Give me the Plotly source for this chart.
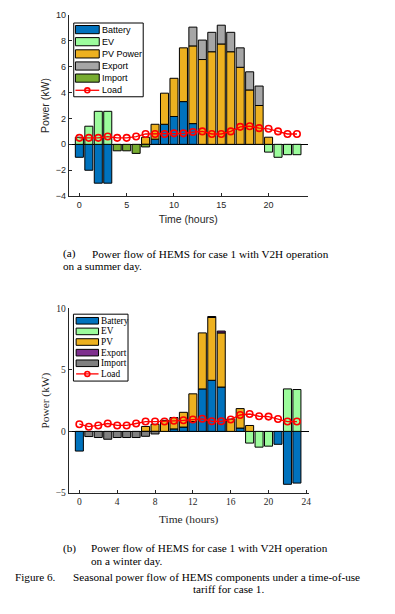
import plotly.graph_objects as go

hours = list(range(24))

# ---- Summer day (a) ----
s_battery = [-1.0, -2.0, -3.0, -3.0, 0, 0, 0, 0, 0.4, 1.55, 2.15, 3.3, 1.6, 0, 0, 0, 0, 0, 0, 0, 0, 0, 0, 0]
s_ev = [0.55, 1.4, 2.55, 2.55, 0, 0, 0, 0, 0, 0, 0, 0, 0, 0, 0, 0, 0, 0, 0, 0, -0.6, -1.0, -0.8, -0.8]
s_pv = [0, 0, 0, 0, 0, 0, 0, 0.55, 1.15, 2.4, 2.95, 4.15, 6.0, 6.55, 7.15, 7.75, 7.15, 5.95, 4.2, 3.0, 0.55, 0, 0, 0]
s_export = [0, 0, 0, 0, 0, 0, 0, 0, 0, 0, 0, 0, 1.45, 1.5, 1.5, 1.45, 1.5, 1.5, 1.4, 1.5, 0, 0, 0, 0]
s_import = [0, 0, 0, 0, -0.5, -0.5, -0.7, -0.2, 0, 0, 0, 0, 0, 0, 0, 0, 0, 0, 0, 0, 0, 0, 0, 0]
s_load = [0.5, 0.5, 0.5, 0.6, 0.5, 0.5, 0.6, 0.8, 0.8, 0.8, 0.85, 0.85, 0.95, 1.0, 0.8, 0.8, 1.0, 1.35, 1.4, 1.25, 1.2, 1.0, 0.8, 0.8]

# ---- Winter day (b) ----
w_battery = [-1.6, 0, 0, 0, 0, 0, 0, 0, 0, 0, 0.2, 0.35, 0.8, 3.45, 4.15, 3.6, 0, 0.27, 0, 0, 0, -1.05, -4.3, -4.2]
w_ev = [0, 0, 0, 0, 0, 0, 0, 0, 0, 0, 0, 0, 0, 0, 0, 0, 0, 0, -0.95, -1.28, -1.2, 0, 3.45, 3.4]
w_pv = [0, 0, 0, 0, 0, 0, 0, 0.4, 0.58, 0.9, 0.92, 1.2, 2.25, 4.55, 5.1, 4.4, 1.0, 1.58, 0.48, 0, 0, 0, 0, 0]
w_export = [0, 0, 0, 0, 0, 0, 0, 0, 0, 0, 0, 0, 0, 0, 0.08, 0.15, 0, 0, 0, 0, 0, 0, 0, 0]
w_import = [0, -0.42, -0.5, -0.64, -0.5, -0.5, -0.5, -0.4, -0.21, 0, 0, 0, 0, 0, 0, 0, 0, 0, 0, 0, 0, 0, 0, 0]
w_load = [0.58, 0.38, 0.48, 0.64, 0.48, 0.48, 0.64, 0.8, 0.8, 0.8, 0.86, 0.9, 0.97, 1.02, 0.82, 0.82, 0.97, 1.33, 1.41, 1.23, 1.2, 1.0, 0.8, 0.8]

s_names = ["Battery", "EV", "PV Power", "Export", "Import"]
w_names = ["Battery", "EV", "PV", "Export", "Import"]
s_colors = ["#0072BD", "#9CFC9C", "#EDB120", "#A6A6A6", "#77AC30"]
w_colors = ["#0072BD", "#9CFC9C", "#EDB120", "#7E2F8E", "#808080"]

s_xticks = [0, 5, 10, 15, 20]
s_yticks = [-4, -2, 0, 2, 4, 6, 8, 10]
w_xticks = [0, 4, 8, 12, 16, 20, 24]
w_yticks = [-5, 0, 5, 10]

W, H = 395, 614
def X(px):
    return px / W
def Y(py):
    return 1 - py / H

SANS = "Liberation Sans, Arial, sans-serif"
SERIF = "Liberation Serif, Times New Roman, serif"
TXT = "#262626"

fig = go.Figure()

def nz(v):
    return [None if a == 0 else a for a in v]

def add_panel(series, names, colors, load, xa, ya):
    for vals, name, col in zip(series, names, colors):
        fig.add_trace(go.Bar(x=hours, y=nz(vals), name=name, width=0.85,
                             marker=dict(color=col, line=dict(color="black", width=1)),
                             xaxis=xa, yaxis=ya, showlegend=False))
    fig.add_trace(go.Scatter(x=hours, y=load, name="Load", mode="lines+markers",
                             line=dict(color="#FF0000", width=1.3),
                             marker=dict(symbol="circle-open", size=6.5, color="#FF0000", line=dict(width=1.6)),
                             xaxis=xa, yaxis=ya, showlegend=False))

add_panel([s_battery, s_ev, s_pv, s_export, s_import], s_names, s_colors, s_load, "x", "y")
add_panel([w_battery, w_ev, w_pv, w_export, w_import], w_names, w_colors, w_load, "x2", "y2")

axis_common = dict(showline=True, linecolor=TXT, linewidth=1, ticks="inside", ticklen=3,
                   tickcolor=TXT, showgrid=False, mirror=False)

fig.update_layout(
    width=W, height=H, margin=dict(l=0, r=0, t=0, b=0),
    paper_bgcolor="white", plot_bgcolor="white",
    barmode="relative", showlegend=False,
    xaxis=dict(domain=[X(69.3), X(310)], range=[-1.12, 24.13], tickvals=s_xticks,
               zeroline=False, anchor="y",
               tickfont=dict(family=SANS, size=9, color=TXT),
               title=dict(text="Time (hours)", font=dict(family=SANS, size=10.5, color=TXT), standoff=6),
               **axis_common),
    yaxis=dict(domain=[Y(194.3), Y(10)], range=[-4, 10], tickvals=s_yticks,
               zeroline=True, zerolinecolor="black", zerolinewidth=1, anchor="x",
               tickfont=dict(family=SANS, size=9, color=TXT),
               title=dict(text="Power (kW)", font=dict(family=SANS, size=10.5, color=TXT), standoff=4),
               **axis_common),
    xaxis2=dict(domain=[X(69.3), X(311)], range=[-1.12, 24.24], tickvals=w_xticks,
                zeroline=False, anchor="y2",
                tickfont=dict(family=SERIF, size=9.5, color=TXT),
                title=dict(text="Time (hours)", font=dict(family=SERIF, size=11.4, color=TXT), standoff=8),
                **axis_common),
    yaxis2=dict(domain=[Y(496), Y(308.3)], range=[-5, 10], tickvals=w_yticks,
                zeroline=True, zerolinecolor="black", zerolinewidth=1, anchor="x2",
                tickfont=dict(family=SERIF, size=9.5, color=TXT),
                title=dict(text="Power (kW)", font=dict(family=SERIF, size=11.4, color=TXT), standoff=3),
                **axis_common),
)

shapes = []
annotations = []

def legend(box, sw_x0, sw_x1, sw_h, centers, labels, colors, font, fsize):
    x0, y0, x1, y1 = box
    shapes.append(dict(type="rect", xref="paper", yref="paper", x0=X(x0), x1=X(x1), y0=Y(y1), y1=Y(y0),
                       line=dict(color="black", width=1), fillcolor="white"))
    for c, lab, col in zip(centers, labels, colors):
        shapes.append(dict(type="rect", xref="paper", yref="paper", x0=X(sw_x0), x1=X(sw_x1),
                           y0=Y(c + sw_h / 2), y1=Y(c - sw_h / 2),
                           line=dict(color="black", width=1), fillcolor=col))
    c = centers[-1]
    shapes.append(dict(type="line", xref="paper", yref="paper", x0=X(sw_x0), x1=X(sw_x1), y0=Y(c), y1=Y(c),
                       line=dict(color="#FF0000", width=1.3)))
    xm = (sw_x0 + sw_x1) / 2
    shapes.append(dict(type="circle", xref="paper", yref="paper", x0=X(xm - 2.5), x1=X(xm + 2.5),
                       y0=Y(c + 2.5), y1=Y(c - 2.5), line=dict(color="#FF0000", width=1.6)))
    for c, lab in zip(centers, labels + ["Load"]):
        annotations.append(dict(xref="paper", yref="paper", x=X(sw_x1 + 0.5), y=Y(c), text=lab,
                                showarrow=False, xanchor="left", yanchor="middle",
                                font=dict(family=font, size=fsize, color="black")))

legend((74.3, 18.3, 144.3, 93.3), 76, 100, 8.3,
       [25, 37.3, 49.7, 62, 74.3, 86.7], s_names, s_colors, SANS, 9)
legend((74, 314.3, 129, 382.3), 76.7, 99.3, 6.7,
       [321, 331.8, 342.6, 353.4, 364.2, 375], w_names, w_colors, SERIF, 9.3)

CAP = 11.2
def cap(x, y, text, anchor="left", size=CAP):
    annotations.append(dict(xref="paper", yref="paper", x=X(x), y=Y(y), text=text, showarrow=False,
                            xanchor=anchor, yanchor="middle",
                            font=dict(family=SERIF, size=size, color="black")))

cap(61.7, 253.0, "(a)")
cap(90.7, 253.0, "Power flow of HEMS for case 1 with V2H operation")
cap(61.7, 265.5, "on a summer day.")
cap(61.7, 552.3, "(b)")
cap(89.3, 552.3, "Power flow of HEMS for case 1 with V2H operation")
cap(89.3, 564.8, "on a winter day.")
cap(13.3, 581.2, "Figure 6.")
cap(72, 581.2, "Seasonal power flow of HEMS components under a time-of-use")
cap(230, 593.8, "tariff for case 1.", anchor="center")

fig.update_layout(shapes=shapes, annotations=annotations)

fig.write_html("out.html", config={"displayModeBar": False},
               post_script="document.body.style.margin='0';")
